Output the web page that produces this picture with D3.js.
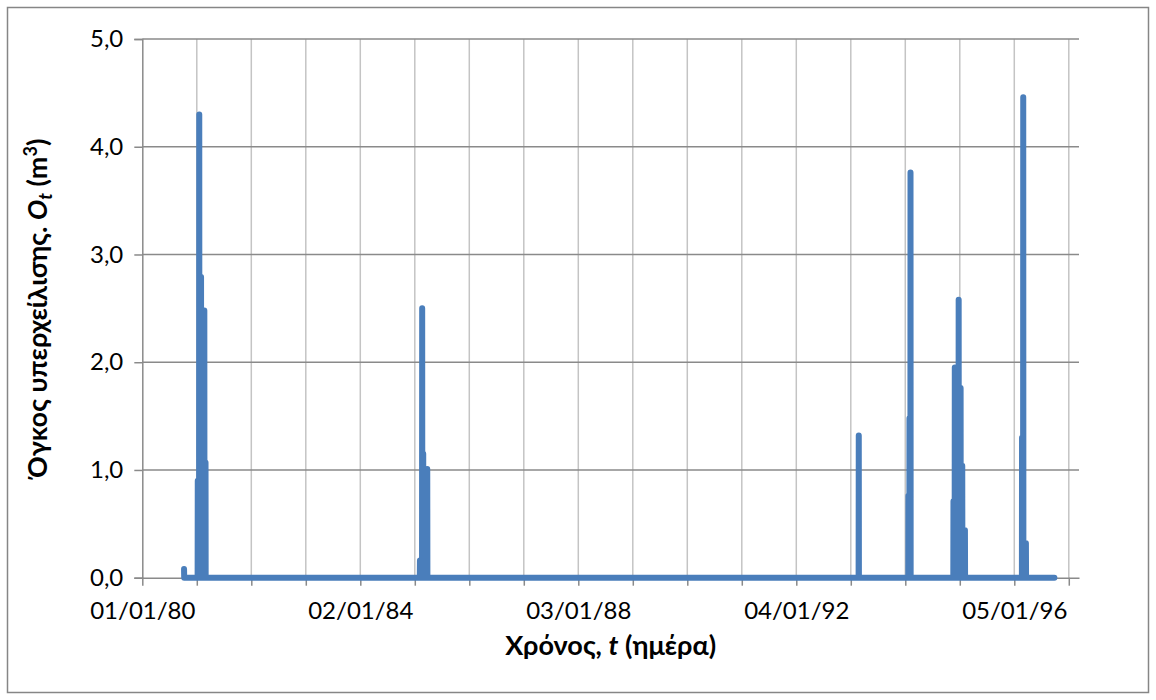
<!DOCTYPE html>
<html>
<head>
<meta charset="utf-8">
<script src="https://cdn.jsdelivr.net/npm/d3@7"></script>
<style>
  body { margin: 0; background: #ffffff; }
  svg { display: block; }
  text { font-family: Lato, "Open Sans", "DejaVu Sans", sans-serif; fill: #000; }
</style>
</head>
<body>
<svg id="chart" width="1156" height="700"></svg>
<script>
// Daily overflow volume O_t (m³). Days that are not listed had no overflow (0).
const seriesStart = "1980-10-07";
const seriesEnd = "1996-09-30";
const overflowDates = [
  "1980-10-07",
  "1981-01-07", "1981-01-17", "1981-01-29", "1981-02-20", "1981-02-28",
  "1985-02-05", "1985-02-20", "1985-02-27", "1985-03-26",
  "1993-02-26",
  "1994-01-25", "1994-02-01", "1994-02-08",
  "1994-11-23", "1994-12-02", "1994-12-28", "1995-01-10", "1995-01-21", "1995-02-08",
  "1996-02-26", "1996-03-05", "1996-03-23"
];
const overflowValues = [
  0.08,
  0.90, 4.30, 2.79, 2.48, 1.07,
  0.16, 2.50, 1.15, 1.01,
  1.32,
  0.76, 1.48, 3.76,
  0.71, 1.95, 2.58, 1.76, 1.04, 0.44,
  1.30, 4.46, 0.32
];

// Axes
const xDomain = ["1980-01-01", "1997-03-14"];
const xLabelDates = ["1980-01-01", "1984-01-02", "1988-01-03", "1992-01-04", "1996-01-05"];
const gridStepDays = 365.5;
const yTicks = [0, 1, 2, 3, 4, 5];
const xTitle = ["Χρόνος, ", "t", " (ημέρα)"];
const yTitle = ["Όγκος υπερχείλισης. ", "O", "t", " (m", "3", ")"];

const parse = d3.utcParse("%Y-%m-%d");
const DAY = 864e5;

const svg = d3.select("#chart");
const plot = { left: 142.3, right: 1079, top: 39, bottom: 577.7 };

const x = d3.scaleUtc()
  .domain(xDomain.map(parse))
  .range([plot.left, plot.right]);
const y = d3.scaleLinear()
  .domain([d3.min(yTicks), d3.max(yTicks)])
  .range([plot.bottom, plot.top]);

// chart frame
svg.append("rect")
  .attr("x", 7.5).attr("y", 7.5)
  .attr("width", 1141).attr("height", 685)
  .attr("fill", "#fff")
  .attr("stroke", "#868686").attr("stroke-width", 1.5);

// grid positions every year step
const t0 = parse(xDomain[0]).getTime();
const tEnd = parse(xDomain[1]).getTime();
const gridDates = d3.range(0, Math.floor((tEnd - t0) / (gridStepDays * DAY)) + 1)
  .map(k => new Date(t0 + k * gridStepDays * DAY));

const grid = svg.append("g");
grid.selectAll("line.v")
  .data(gridDates.slice(1))
  .join("line")
  .attr("x1", d => x(d)).attr("x2", d => x(d))
  .attr("y1", plot.top).attr("y2", plot.bottom)
  .attr("stroke", "#c4c4c4").attr("stroke-width", 1.5);
grid.selectAll("line.h")
  .data(yTicks.slice(1))
  .join("line")
  .attr("x1", plot.left).attr("x2", plot.right)
  .attr("y1", d => y(d)).attr("y2", d => y(d))
  .attr("stroke", "#8a8a8a").attr("stroke-width", 1.5);

// y axis
const locale = d3.formatLocale({ decimal: ",", thousands: ".", grouping: [3], currency: ["", "€"] });
const yAxis = d3.axisLeft(y)
  .tickValues(yTicks)
  .tickSize(8)
  .tickPadding(11)
  .tickFormat(locale.format(".1f"));
const gy = svg.append("g").attr("transform", `translate(${plot.left},0)`).call(yAxis);
gy.select(".domain").attr("stroke", "#8a8a8a").attr("stroke-width", 1.5);
gy.selectAll(".tick line").attr("stroke", "#8a8a8a").attr("stroke-width", 1.5);
gy.selectAll(".tick text").attr("font-size", 24).attr("font-family", "Lato").attr("fill", "#000");

// x axis: tick marks on every grid step, labels on every fourth
const xTickAxis = d3.axisBottom(x).tickValues(gridDates).tickSize(8).tickFormat("").tickSizeOuter(0);
const gx = svg.append("g").attr("transform", `translate(0,${plot.bottom})`).call(xTickAxis);
gx.select(".domain").attr("stroke", "#8a8a8a").attr("stroke-width", 1.5);
gx.selectAll(".tick line").attr("stroke", "#8a8a8a").attr("stroke-width", 1.5);

const xLabelAxis = d3.axisBottom(x)
  .tickValues(xLabelDates.map(parse))
  .tickSize(0)
  .tickPadding(24)
  .tickFormat(d3.utcFormat("%d/%m/%y"));
const gxl = svg.append("g").attr("transform", `translate(0,${plot.bottom})`).call(xLabelAxis);
gxl.select(".domain").remove();
gxl.selectAll(".tick text").attr("font-size", 24).attr("font-family", "Lato").attr("fill", "#000");

// overflow series: zero on the days around every overflow event
const points = [];
const startT = parse(seriesStart).getTime();
const endT = parse(seriesEnd).getTime();
overflowDates.forEach((ds, i) => {
  const t = parse(ds).getTime();
  const last = points.length ? points[points.length - 1][0] : -Infinity;
  if (!points.length && t > startT) points.push([startT, 0]);
  if (t - DAY >= startT && t - DAY > last) points.push([t - DAY, 0]);
  points.push([t, overflowValues[i]]);
  points.push([t + DAY, 0]);
});
points.push([endT, 0]);

const line = d3.line()
  .x(d => x(new Date(d[0])))
  .y(d => y(d[1]));

svg.append("path")
  .datum(points)
  .attr("d", line)
  .attr("fill", "none")
  .attr("stroke", "#4a7ebb")
  .attr("stroke-width", 6)
  .attr("stroke-linejoin", "round")
  .attr("stroke-linecap", "round");

// axis titles
const xt = svg.append("text")
  .attr("x", (plot.left + plot.right) / 2)
  .attr("y", 655)
  .attr("text-anchor", "middle")
  .attr("font-size", 27)
  .attr("font-weight", "bold");
xt.append("tspan").text(xTitle[0]);
xt.append("tspan").attr("font-style", "italic").text(xTitle[1]);
xt.append("tspan").text(xTitle[2]);

const yt = svg.append("text")
  .attr("transform", `translate(47,${(plot.top + plot.bottom) / 2}) rotate(-90)`)
  .attr("text-anchor", "middle")
  .attr("font-size", 27)
  .attr("font-weight", "bold");
yt.append("tspan").text(yTitle[0]);
yt.append("tspan").attr("font-style", "italic").text(yTitle[1]);
yt.append("tspan").attr("font-style", "italic").attr("font-size", 18).attr("dy", 5).text(yTitle[2]);
yt.append("tspan").attr("dy", -5).text(yTitle[3]);
yt.append("tspan").attr("font-size", 18).attr("dy", -10).text(yTitle[4]);
yt.append("tspan").attr("dy", 10).text(yTitle[5]);
</script>
</body>
</html>
